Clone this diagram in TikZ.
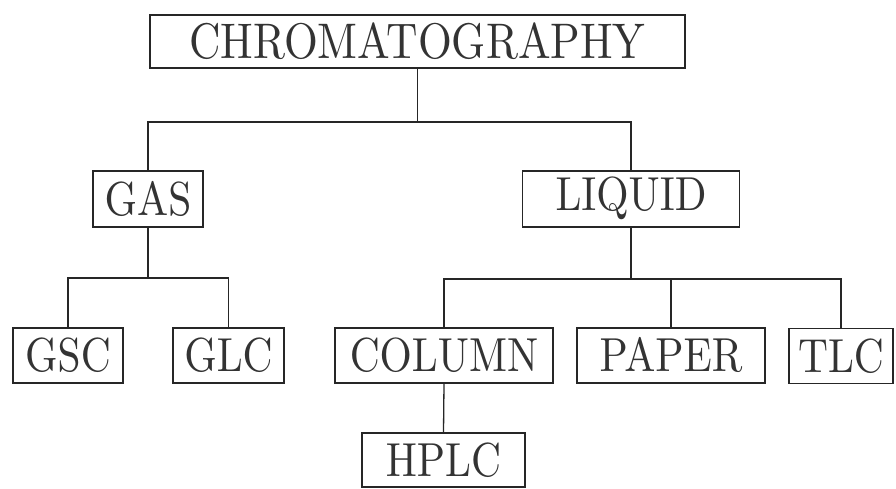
\documentclass[tikz,border=0pt]{standalone}
\usepackage{graphicx}
\font\chromfont=cmr10 at 43.5pt
\font\boxfont=cmr10 at 41.5pt
\tikzset{
  box/.style={draw=black!85, line width=1.3pt, rectangle, inner sep=0pt,
    minimum height=55pt, font=\boxfont, text=black!80},
  conn/.style={draw=black!85, line width=1.3pt},
}
\newcommand{\lbl}[1]{\scalebox{1}[1.15]{#1}}
\begin{document}
\begin{tikzpicture}[x=1pt,y=-1pt]
\useasboundingbox (0,0) rectangle (896,489);
\node[box, minimum width=535pt, minimum height=53pt, font=\chromfont] (chrom) at (417.5,41.5) {\lbl{CHROMATOGRAPHY}};
\node[box, minimum width=110pt, minimum height=56pt] (gas) at (148,199) {\lbl{GAS}};
\node[box, minimum width=217pt, minimum height=56pt] (liquid) at (631,199) {\lbl{LIQUID}};
\node[box, minimum width=110pt] (gsc) at (68,355.5) {\lbl{GSC}};
\node[box, minimum width=111pt] (glc) at (228.5,355.5) {\lbl{GLC}};
\node[box, minimum width=218pt] (column) at (444,355.5) {\lbl{COLUMN}};
\node[box, minimum width=188pt] (paper) at (671,355.5) {\lbl{PAPER}};
\node[box, minimum width=104pt] (tlc) at (841,356) {\lbl{TLC}};
\node[box, minimum width=163pt, minimum height=54pt] (hplc) at (443.5,460) {\lbl{HPLC}};
\coordinate (j1) at (417.5,122);
\coordinate (j2) at (148,278);
\coordinate (j3) at (631,279);
\draw[conn] (chrom.south) -- (j1);
\draw[conn] (gas.north) |- (j1) -| (liquid.north);
\draw[conn] (gas.south) -- (j2);
\draw[conn] (gsc.north) |- (j2) -| (glc.north);
\draw[conn] (liquid.south) -- (j3);
\draw[conn] (column.north) |- (j3) -| (tlc.north);
\draw[conn] (paper.north) -- (paper.north |- j3);
\draw[conn] (column.south) -- (hplc.north);
\end{tikzpicture}
\end{document}
